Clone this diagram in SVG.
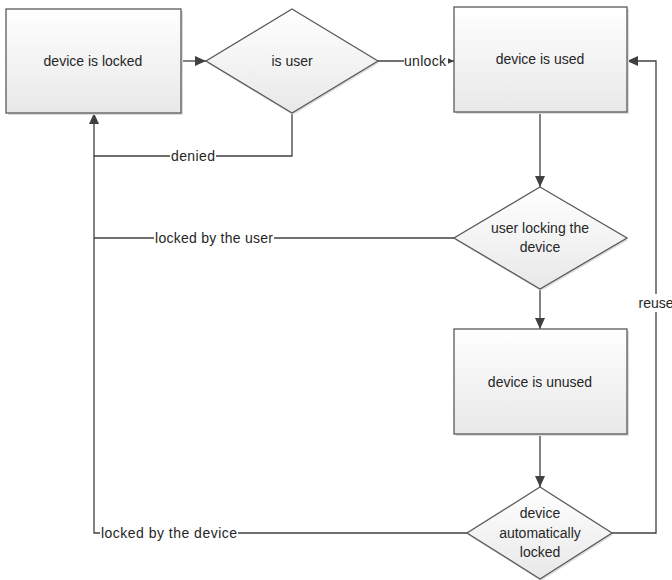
<svg xmlns="http://www.w3.org/2000/svg" width="672" height="580" viewBox="0 0 672 580">
<defs>
<linearGradient id="g" x1="0" y1="0" x2="0" y2="1">
<stop offset="0" stop-color="#ffffff"/>
<stop offset="1" stop-color="#e8e8e8"/>
</linearGradient>
<marker id="ah" markerUnits="userSpaceOnUse" markerWidth="12" markerHeight="10" refX="11" refY="5" orient="auto">
<path d="M0,0 L11,5 L0,10 z" fill="#404040"/>
</marker>
</defs>
<style>
.shape{fill:url(#g);stroke:#5a5a5a;stroke-width:1.3}
.shadow{fill:#dcdcdc;stroke:none}
.t{font-family:"Liberation Sans",Arial,sans-serif;font-size:14px;fill:#262626;text-anchor:middle}
.c{fill:none;stroke:#404040;stroke-width:1.3}
.lb{fill:#ffffff}
</style>
<rect width="672" height="580" fill="#ffffff"/>
<g id="connectors">
<path class="c" d="M181,61 H206" marker-end="url(#ah)"/>
<path class="c" d="M378,61 H454" marker-end="url(#ah)"/>
<path class="c" d="M292,113 V156 H94 V113" marker-end="url(#ah)"/>
<path class="c" d="M540,112 V187" marker-end="url(#ah)"/>
<path class="c" d="M454,238 H94"/>
<path class="c" d="M540,289 V329" marker-end="url(#ah)"/>
<path class="c" d="M540,434 V487" marker-end="url(#ah)"/>
<path class="c" d="M467,533 H94 V156"/>
<path class="c" d="M612,533 H656 V61 H627" marker-end="url(#ah)"/>
<rect class="lb" x="404" y="52" width="44" height="18"/>
<text class="t" x="425" y="66" textLength="42">unlock</text>
<rect class="lb" x="170" y="147" width="46" height="18"/>
<text class="t" x="193" y="161" textLength="44">denied</text>
<rect class="lb" x="154" y="229" width="120" height="18"/>
<text class="t" x="214" y="243" textLength="118">locked by the user</text>
<rect class="lb" x="100" y="524" width="138" height="18"/>
<text class="t" x="169" y="538" textLength="136">locked by the device</text>
<rect class="lb" x="638" y="294" width="36" height="18"/>
<text class="t" x="656" y="308">reuse</text>
</g>
<g id="device-is-locked">
<rect class="shadow" x="8" y="11" width="175" height="104"/>
<rect class="shape" x="6" y="9" width="175" height="104"/>
<text class="t" x="93" y="66">device is locked</text>
</g>
<g id="is-user">
<polygon class="shadow" points="293,11 379,63 293,115 207,63"/>
<polygon class="shape" points="292,9 378,61 292,113 206,61"/>
<text class="t" x="292" y="66">is user</text>
</g>
<g id="device-is-used">
<rect class="shadow" x="456" y="9" width="173" height="105"/>
<rect class="shape" x="454" y="7" width="173" height="105"/>
<text class="t" x="540" y="64">device is used</text>
</g>
<g id="user-locking">
<polygon class="shadow" points="541,189 628,240 541,291 455,240"/>
<polygon class="shape" points="540,187 627,238 540,289 454,238"/>
<text class="t" x="540" y="233">user locking the</text>
<text class="t" x="540" y="252">device</text>
</g>
<g id="device-is-unused">
<rect class="shadow" x="456" y="331" width="173" height="105"/>
<rect class="shape" x="454" y="329" width="173" height="105"/>
<text class="t" x="540" y="387">device is unused</text>
</g>
<g id="device-auto-locked">
<polygon class="shadow" points="541,489 613,535 541,581 468,535"/>
<polygon class="shape" points="540,487 612,533 540,579 467,533"/>
<text class="t" x="540" y="518">device</text>
<text class="t" x="540" y="538">automatically</text>
<text class="t" x="540" y="557">locked</text>
</g>
</svg>
